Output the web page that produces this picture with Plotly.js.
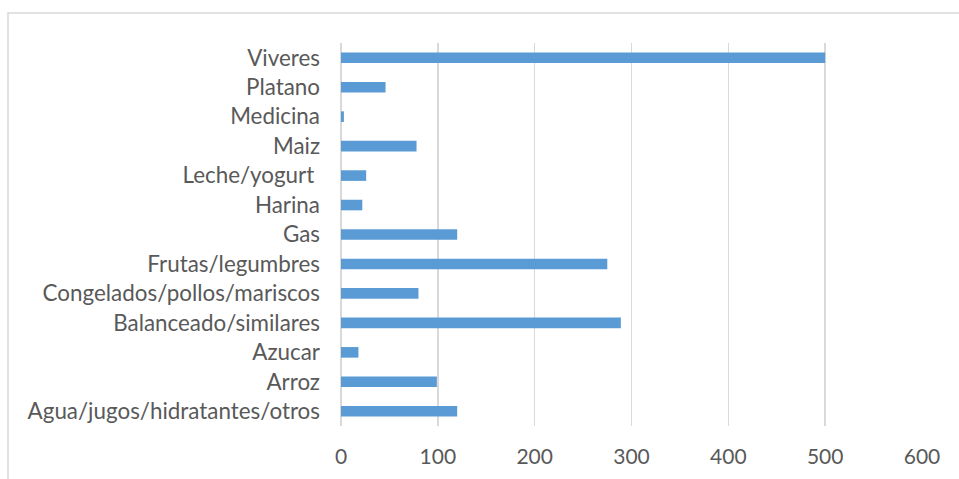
<!DOCTYPE html>
<html>
<head>
<meta charset="utf-8">
<script src="https://cdn.plot.ly/plotly-3.0.1.min.js"></script>
<style>html,body{margin:0;padding:0;background:#fff;}#chart{width:959px;height:479px;}</style>
</head>
<body>
<div id="chart"></div>
<script>
const categories = [
  "Agua/jugos/hidratantes/otros",
  "Arroz",
  "Azucar",
  "Balanceado/similares",
  "Congelados/pollos/mariscos",
  "Frutas/legumbres",
  "Gas",
  "Harina",
  "Leche/yogurt ",
  "Maiz",
  "Medicina",
  "Platano",
  "Viveres"
];
const values = [120, 99, 18, 289, 80, 275, 120, 22, 26, 78, 3, 46, 500];
const xTicks = [0, 100, 200, 300, 400, 500, 600];

const plotL = 341, plotR = 922, plotT = 43, plotB = 426, W = 959, H = 479;
const pw = plotR - plotL, ph = plotB - plotT;

const trace = {
  type: 'bar',
  orientation: 'h',
  y: categories,
  x: values,
  marker: {color: '#5b9bd5'},
  hoverinfo: 'x+y'
};

const layout = {
  width: W, height: H,
  margin: {l: plotL, r: W - plotR, t: plotT, b: H - plotB, pad: 0},
  paper_bgcolor: '#ffffff',
  plot_bgcolor: '#ffffff',
  showlegend: false,
  bargap: 0.64,
  font: {family: 'Lato, "Open Sans", sans-serif', size: 22.4, color: '#595959'},
  xaxis: {
    range: [0, 600],
    tickvals: xTicks,
    ticktext: xTicks.map(String),
    tickfont: {size: 21},
    showgrid: true,
    gridcolor: '#d9d9d9',
    gridwidth: 1.5,
    zeroline: true,
    zerolinecolor: '#d9d9d9',
    zerolinewidth: 1.5,
    showline: false,
    ticks: '',
    ticklabelstandoff: 16,
    fixedrange: true
  },
  yaxis: {
    type: 'category',
    categoryorder: 'array',
    categoryarray: categories,
    showgrid: false,
    zeroline: false,
    showline: false,
    ticks: '',
    ticklabelstandoff: 20,
    fixedrange: true
  },
  shapes: [{
    type: 'rect', xref: 'paper', yref: 'paper',
    x0: (8 - plotL) / pw, x1: (W + 5 - plotL) / pw,
    y0: (plotB - (H + 5)) / ph, y1: (plotB - 13) / ph,
    line: {color: '#d9d9d9', width: 1.5},
    fillcolor: 'rgba(0,0,0,0)',
    layer: 'below'
  }]
};

Plotly.newPlot('chart', [trace], layout, {displayModeBar: false, staticPlot: true});
</script>
</body>
</html>
